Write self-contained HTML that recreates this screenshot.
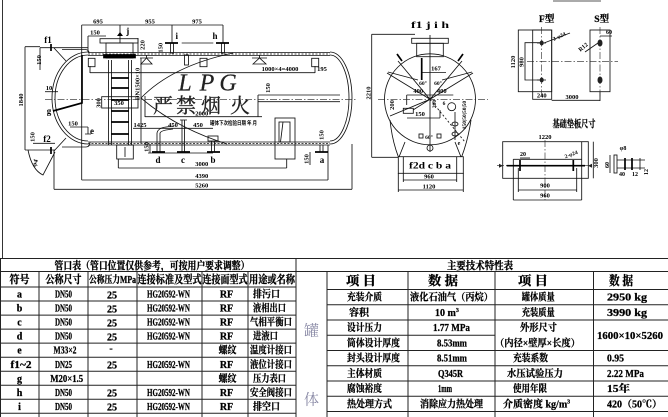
<!DOCTYPE html>
<html><head><meta charset="utf-8">
<style>
html,body{margin:0;padding:0;background:#fff;}
svg{display:block}
.l{stroke:#111;stroke-width:.85;fill:none}
.th{stroke:#000;stroke-width:1.7;fill:none}
.dd{stroke:#222;stroke-width:.6;fill:none;stroke-dasharray:7 2 1.5 2}
.tl{stroke:#222;stroke-width:1;fill:none}
.s{font-family:"Liberation Serif",serif;font-size:6.5px;font-weight:bold;fill:#000}
.m{font-family:"Liberation Serif",serif;font-size:9px;font-weight:bold;fill:#000}
.c{font-family:"Liberation Serif","Noto Serif CJK SC",serif;font-size:10.5px;font-weight:bold;fill:#000;stroke:#000;stroke-width:.3}
.e{font-family:"Liberation Serif","Noto Serif CJK SC",serif;font-size:10px;font-weight:bold;fill:#000;stroke:#000;stroke-width:.25}
.h{font-family:"Liberation Serif","Noto Serif CJK SC",serif;font-size:12.5px;font-weight:bold;fill:#000;stroke:#000;stroke-width:.3}
</style></head><body>
<svg width="668" height="417" viewBox="0 0 668 417" xmlns="http://www.w3.org/2000/svg">
<rect width="668" height="417" fill="#fff"/>
<path class="l" d="M2.5 0V258"/>
<rect x="553" y="0" width="48" height="2" fill="#aaa"/>

<!-- ===== SIDE VIEW ===== -->
<g class="l">
<path d="M81.7 25H223 M81.7 25V180 M120 25V43 M172 25V43 M223 25V43"/>
<rect x="100" y="38.7" width="38" height="4.3"/>
<rect x="106" y="43" width="27" height="15"/>
<path d="M88 36H106 M88 36V52 M138 38V52"/>
<path d="M181.7 43H213.3"/>
<rect x="170.5" y="43" width="3" height="10"/>
<rect x="221.5" y="43" width="3" height="10"/>
<path d="M88 52.5H330 M88 55.5H330 M88 142H330 M88 145H330"/>
<path d="M88 54H330 M88 143.5H330" stroke-dasharray="2 1.5"/>
<path d="M88 52 A36 46 0 0 0 88 144 M88 55 A33 43 0 0 0 88 141"/>
<path d="M330 52 A22 46 0 0 1 330 144 M330 55 A19 43 0 0 1 330 141"/>
<path d="M40 47.7H88 M54 48L66 61 M62 49.5H85 Q89 49.5 89 53"/>
<path d="M33 143.3H55 M54 151L66 138 M62 147H86 Q90 147 90 142"/>
<path d="M40 47.7V70"/>
<path d="M45 91.7H58"/>
<path d="M25 46.7V150 M25 46.7H40 M25 150H55"/>
<path d="M28 150Q32 170 43 175L55 152"/>
<path d="M54 150V189.3 M54 189.3H352 M352 144V189.3"/>
<path d="M81.7 180H328 M328 145V180"/>
<path d="M118.3 168H286.7 M118.3 159V168 M286.7 159V168"/>
<rect x="116.7" y="145" width="16.6" height="14"/>
<path d="M125 147V157"/>
<rect x="275" y="118" width="20" height="41"/>
<rect x="279" y="122" width="11" height="20"/>
<path d="M283 122L280.5 142"/>
<path d="M108.5 60V145 M111.5 60V145 M128.5 60V145 M131.5 60V145"/>
<path d="M141 58V143"/>
<rect x="88.3" y="58.3" width="6.7" height="8.4"/>
<rect x="200" y="58.3" width="7" height="8.4"/>
<rect x="311.7" y="58.3" width="7" height="8.4"/>
<path d="M140 58H153 M146.5 55V58 M141 64L146.5 58L152 64Z"/>
<path d="M252 58H267 M259.5 55V58 M253 64L259.5 58L266 64Z"/>
<rect x="184.5" y="55" width="4" height="10"/>
<path d="M90 72.7H315 M90 66V73 M315 66V73"/>
<path d="M145 116.7H262 M145 96V117 M258 95V117 M258 95H340 M258 101.7H340"/>
<path d="M233 53Q172 66 141 98Q176 128 227 144"/>
<rect x="101.7" y="96.7" width="36.3" height="11.3"/>
<path d="M70 127H88 M88 127V134 M85 134H91"/>
<path d="M133 128.3H213"/>
<path d="M157 133V152 M160 133V152 M157 133Q158 128 166 127L173 126 M160 133Q161 131 166 130L173 129"/>
<path d="M182 120V152 M184.5 120V152 M180 120H187"/>
<path d="M211.5 141V152 M214.5 141V152"/>
<rect x="208" y="136" width="10" height="5"/>
<path d="M320 145V152 M323 145V152"/>
<path d="M148 153H213 M150 144V153 M310 152V165"/>
</g>
<path class="dd" d="M45 99.3H356"/>
<g class="th">
<path d="M51 44V51 M51 147V154"/>
<path d="M53 111L82 103L82 55"/>
<path d="M165 43H178 M216 43H229"/>
<path d="M111 78H129 M111 88H129 M111 100H129 M111 111H129 M111 122H129 M111 134H129"/>
<path d="M152 152H165 M177 152H190 M207 152H220 M315 152H328"/>
<rect x="104" y="55" width="31" height="2.5" fill="#000"/>
</g>
<polygon points="117,36 120,32 123,36" fill="#000"/>
<g class="s" text-anchor="middle">
<text x="98" y="23.5">695</text><text x="150" y="23.5">955</text><text x="197" y="23.5">975</text>
<text x="95" y="34.5">150</text>
<text transform="rotate(-90 142.5 45)" x="142.5" y="47">220</text>
<text transform="rotate(-90 160 47.7)" x="160" y="50">150</text>
<text transform="rotate(-90 39 60)" x="39" y="62">150</text>
<text transform="rotate(-90 32.7 137)" x="32.7" y="139">150</text>
<text x="49" y="90">10</text>
<text transform="rotate(-90 21 100)" x="21" y="102">1840</text>
<text transform="rotate(-70 35 163)" x="35" y="165">φ4</text>
<text x="201.7" y="166">3000</text><text x="201.7" y="178">4390</text><text x="201.7" y="187.5">5260</text>
<text x="280" y="71">1000×4=4000</text><text x="322" y="71">195</text>
<text transform="rotate(-90 268 88)" x="268" y="90">150</text>
<text transform="rotate(-90 137.5 84)" x="137.5" y="86">DN1500×10</text>
<text x="119" y="105">350</text>
<text transform="rotate(-90 98.5 103)" x="98.5" y="105">300</text>
<text x="201.7" y="115.5">2000</text>
<text x="73" y="125.5">150</text>
<text x="140" y="127">1425</text><text x="173" y="127">450</text><text x="198" y="127">450</text>
<text transform="rotate(-90 146.7 147)" x="146.7" y="149">150</text>
<text transform="rotate(-90 306.7 159)" x="306.7" y="161">150</text>
<text transform="rotate(-90 321.7 135)" x="321.7" y="137">150</text>
</g>
<g class="m" text-anchor="middle">
<text x="127.7" y="34">j</text><text x="176.7" y="39">i</text><text x="215" y="39">h</text>
<text x="48" y="43">f1</text><text x="47" y="142">f2</text>
<text x="49" y="114">g</text><text x="92" y="134">e</text>
<text x="158" y="163">d</text><text x="183" y="163">c</text><text x="213" y="163">b</text><text x="322" y="163">a</text>
</g>
<g font-family="Liberation Serif,serif" font-style="italic" font-size="24" fill="#222" stroke="#222" stroke-width=".2" text-anchor="middle">
<text x="185" y="90.7">L</text><text x="207" y="90.7">P</text><text x="228" y="90.7">G</text>
</g>
<g font-family="Noto Serif CJK SC,serif" font-size="20" fill="#222" stroke="#222" stroke-width=".3" text-anchor="middle">
<text x="163" y="112.5">严</text><text x="186" y="112.5">禁</text><text x="211" y="112.5">烟</text><text x="240" y="112.5">火</text>
</g>
<text x="210" y="125" font-family="Noto Sans CJK SC,sans-serif" font-size="5.5" font-weight="bold" textLength="47" lengthAdjust="spacingAndGlyphs">罐体下次检验日期  年  月</text>

<!-- ===== END VIEW ===== -->
<g class="l">
<circle cx="430" cy="99.3" r="45.5"/>
<path d="M430 35V152"/>
<rect x="411.7" y="38.3" width="36.6" height="5"/>
<rect x="416.7" y="43.3" width="26.6" height="13.4"/>
<path d="M371.7 34.3V157.3 M371.7 34.3H415 M371.7 157.3H398"/>
<path d="M421.7 72.5H446"/>
<path d="M387 73L430 99.3 M473 73L430 99.3 M398 61L430 99.3 M462 61L430 99.3 M388 72L418 80 M472 72L442 80"/>
<path d="M406.7 95H453.3 M406.7 95V105"/>
<rect x="403.3" y="108.3" width="10" height="5"/>
<path d="M413 110L430 99.3 M430 99.3L390 116"/>
<path d="M407 118H440 M440 110V118"/>
<path d="M430 99.3L465 142" stroke-dasharray="2 2"/>
<circle cx="451.7" cy="106.7" r="4"/>
<ellipse cx="455" cy="124" rx="3" ry="2"/><ellipse cx="455" cy="134" rx="3" ry="2"/>
<path d="M455 112V140"/>
<rect x="419" y="134" width="4" height="4"/><rect x="437" y="134" width="4" height="4"/>
<circle cx="430" cy="148" r="3"/>
<path d="M390 120Q392 140 398.3 156.7 M471 120Q468 140 461.7 156.7 M405 142L399 157 M455 142L461 157"/>
<rect x="398.3" y="156.7" width="65" height="16.6"/>
<path d="M403.3 156.7V182 M456.7 156.7V182 M403.3 180H456.7"/>
<path d="M398.3 173V192 M463.3 173V192 M398.3 190H463.3"/>
</g>
<path class="dd" d="M378 99.3H488"/>
<g class="th">
<path d="M397 54L402 61 M463 54L458 61 M421.7 58V80"/>
</g>
<g class="s" text-anchor="middle">
<text transform="rotate(-90 368.5 93)" x="368.5" y="95">2210</text>
<text x="436" y="70.5">167</text>
<text x="423" y="85" font-size="5.5">60°</text><text x="438" y="85" font-size="5.5">60°</text>
<text x="418.3" y="93">400</text><text x="441.7" y="93">400</text>
<text transform="rotate(-90 392 105)" x="392" y="107">200</text>
<text transform="rotate(-90 434 104)" x="434" y="106" font-size="5.5">200</text>
<text x="444" y="105" font-size="5.5">6</text>
<text x="420" y="116">150</text>
<text transform="rotate(-90 464 115)" x="464" y="117" font-size="5.5">150|50|50|50</text>
<text x="459" y="145" font-size="6">e</text>
<text x="429" y="139" font-size="5.5">60°</text>
<text x="429" y="178.5">960</text><text x="429" y="188.5">1120</text>
</g>
<g class="m" text-anchor="middle">
<text x="430" y="28" textLength="38" lengthAdjust="spacingAndGlyphs">f1 j i h</text>
<text x="430" y="168.5" textLength="42" lengthAdjust="spacingAndGlyphs">f2d c b a</text>
</g>

<!-- ===== F / S PLATES ===== -->
<g class="l">
<rect x="518.3" y="30" width="33.4" height="61.7"/>
<rect x="532.7" y="30" width="19" height="69.3"/>
<path d="M541.7 42.7H525V80H541.7"/>
<path d="M537 43H546 M537 80H546"/>
<path d="M544 43L570 33"/>
<path d="M551.7 100.3H600 M600 91.7V101"/>
<rect x="590" y="30" width="20" height="61.7"/>
<path d="M585 52L598 43 M600 36H612"/>
<rect x="502.7" y="141.7" width="85.6" height="36.6"/>
<path d="M513.3 159.3H581.7 M513.3 159.3V200 M581.7 141.7V200 M513.3 200H581.7"/>
<path d="M518.3 190H576.7 M518.3 168V192 M576.7 168V192"/>
<path d="M593.3 141.7V178.3"/>
<path d="M520 158H530"/>
<rect x="614" y="155" width="3" height="18"/>
<path d="M617 160H645 M617 168H645 M610 155V173 M640 158V170"/>
</g>
<path class="dd" d="M541.7 27V97 M600 27V97 M527 61.7H618 M545 140V200 M497 165.7H590"/>
<path class="th" d="M506.7 165.7H585 M520 160V171 M573.3 160V171 M625 158V170 M632 158V170"/>
<g fill="#222">
<ellipse cx="541.7" cy="43" rx="2" ry="2.5"/><ellipse cx="541.7" cy="80" rx="2" ry="2.5"/>
<ellipse cx="600" cy="43" rx="2.5" ry="3.5"/><ellipse cx="600" cy="80" rx="2.5" ry="3.5"/>
<polygon points="499,163.7 503,165.7 499,167.7"/><polygon points="592,163.7 588,165.7 592,167.7"/>
</g>
<g class="s" text-anchor="middle">
<text transform="rotate(-25 560 38)" x="560" y="38" font-size="5.5">2-φ24</text>
<text transform="rotate(-90 513 62)" x="513" y="64">1120</text>
<text transform="rotate(-90 521.7 62)" x="521.7" y="64">980</text>
<text x="541.7" y="97.5">240</text>
<text x="572" y="99">3000</text>
<text transform="rotate(-40 583 47)" x="583" y="49" font-size="6">R12</text>
<text x="609" y="34" font-size="6">60</text>
<text x="545" y="139">1220</text>
<text x="523" y="156" font-size="6">20</text>
<text transform="rotate(-20 571.7 156)" x="571.7" y="156" font-size="5.5">2-φ24</text>
<text transform="rotate(-90 596 163)" x="596" y="165">300</text>
<text x="545" y="187.5">900</text><text x="545" y="197.5">960</text>
<text x="623" y="150" font-size="6">φ8</text>
<text transform="rotate(-90 607 165)" x="607" y="167" font-size="6">60</text>
<text x="622" y="176" font-size="6">40</text><text x="635" y="176" font-size="6">12</text>
<text transform="rotate(-90 646 172)" x="646" y="174" font-size="6">12</text>
</g>
<g class="e" text-anchor="middle">
<text x="546.7" y="22" font-size="9.5">F型</text>
<text x="601.7" y="22" font-size="9.5">S型</text>
<text x="574" y="127.5" textLength="43" lengthAdjust="spacingAndGlyphs">基础垫板尺寸</text>
</g>

<!-- ===== TABLES ===== -->
<path class="tl" d="M0 258.5H668 M0 271.5H668 M0 287H296 M0 301H296 M0 315.1H296 M0 329.1H296 M0 343.1H296 M0 357.2H296 M0 371.2H296 M0 385.2H296 M0 399.2H296 M0 413.3H296"/>
<path class="tl" d="M0.5 258V417 M39 271.5V417 M88 271.5V417 M137 271.5V417 M202 271.5V417 M248 271.5V417 M296 258V417"/>
<path class="tl" d="M327 271.5V417 M408 271.5V417 M495 271.5V417 M593.5 271.5V417"/>
<path class="tl" d="M327 289.5H668 M327 304.75H668 M327 320H668 M327 335.25H495 M327 350.5H668 M327 365.75H668 M327 381H668 M327 396.25H668 M327 411.5H668"/>

<g class="c" text-anchor="middle">
<text x="152" y="268.8" textLength="195" lengthAdjust="spacingAndGlyphs">管口表（管口位置仅供参考，可按用户要求调整）</text>
<text x="480" y="268.8" textLength="66" lengthAdjust="spacingAndGlyphs">主要技术特性表</text>
<text x="19.5" y="283" textLength="20" lengthAdjust="spacingAndGlyphs" font-size="11">符号</text>
<text x="63.5" y="283" textLength="36" lengthAdjust="spacingAndGlyphs" font-size="11">公称尺寸</text>
<text x="112.5" y="283" textLength="47" lengthAdjust="spacingAndGlyphs" font-size="10">公称压力MPa</text>
<text x="169.5" y="283" textLength="64" lengthAdjust="spacingAndGlyphs" font-size="11">连接标准及型式</text>
<text x="225" y="283" textLength="45" lengthAdjust="spacingAndGlyphs" font-size="11">连接面型式</text>
<text x="272" y="283" textLength="46" lengthAdjust="spacingAndGlyphs" font-size="11">用途或名称</text>
</g>

<g class="e" text-anchor="middle">
<text x="19.5" y="297.6">a</text><text x="19.5" y="311.6">b</text><text x="19.5" y="325.7">c</text><text x="19.5" y="339.7">d</text><text x="19.5" y="353.7">e</text>
<text x="21" y="367.8" textLength="21" lengthAdjust="spacingAndGlyphs">f1~2</text>
<text x="19.5" y="381.8">g</text><text x="19.5" y="395.8">h</text><text x="19.5" y="409.9">i</text>

<text x="63.5" y="297.6" textLength="17" lengthAdjust="spacingAndGlyphs">DN50</text>
<text x="63.5" y="311.6" textLength="17" lengthAdjust="spacingAndGlyphs">DN50</text>
<text x="63.5" y="325.7" textLength="17" lengthAdjust="spacingAndGlyphs">DN50</text>
<text x="63.5" y="339.7" textLength="17" lengthAdjust="spacingAndGlyphs">DN50</text>
<text x="65" y="353.7" textLength="23" lengthAdjust="spacingAndGlyphs">M33×2</text>
<text x="63.5" y="367.8" textLength="17" lengthAdjust="spacingAndGlyphs">DN25</text>
<text x="66.7" y="381.8" textLength="33" lengthAdjust="spacingAndGlyphs">M20×1.5</text>
<text x="63.5" y="395.8" textLength="17" lengthAdjust="spacingAndGlyphs">DN50</text>
<text x="63.5" y="409.9" textLength="17" lengthAdjust="spacingAndGlyphs">DN50</text>

<text x="112" y="298.3">25</text><text x="112" y="312.3">25</text><text x="112" y="326.4">25</text><text x="112" y="340.4">25</text>
<text x="111" y="351.5">-</text>
<text x="112" y="368.5">25</text><text x="112" y="396.5">25</text><text x="112" y="410.6">25</text>

<text x="168.5" y="297.6" textLength="43" lengthAdjust="spacingAndGlyphs">HG20592-WN</text>
<text x="168.5" y="311.6" textLength="43" lengthAdjust="spacingAndGlyphs">HG20592-WN</text>
<text x="168.5" y="325.7" textLength="43" lengthAdjust="spacingAndGlyphs">HG20592-WN</text>
<text x="168.5" y="339.7" textLength="43" lengthAdjust="spacingAndGlyphs">HG20592-WN</text>
<text x="168.5" y="367.8" textLength="43" lengthAdjust="spacingAndGlyphs">HG20592-WN</text>
<text x="168.5" y="395.8" textLength="43" lengthAdjust="spacingAndGlyphs">HG20592-WN</text>
<text x="168.5" y="409.9" textLength="43" lengthAdjust="spacingAndGlyphs">HG20592-WN</text>

<text x="226.5" y="297.6">RF</text><text x="226.5" y="311.6">RF</text><text x="226.5" y="325.7">RF</text><text x="226.5" y="339.7">RF</text>
<text x="227.5" y="353.7" textLength="18" lengthAdjust="spacingAndGlyphs">螺纹</text>
<text x="226.5" y="367.8">RF</text>
<text x="227.5" y="381.8" textLength="18" lengthAdjust="spacingAndGlyphs">螺纹</text>
<text x="226.5" y="395.8">RF</text><text x="226.5" y="409.9">RF</text>
</g>
<g class="e">
<text x="253" y="297.6" textLength="27" lengthAdjust="spacingAndGlyphs">排污口</text>
<text x="253" y="311.6" textLength="33" lengthAdjust="spacingAndGlyphs">液相出口</text>
<text x="250" y="325.7" textLength="42" lengthAdjust="spacingAndGlyphs">气相平衡口</text>
<text x="253" y="339.7" textLength="25" lengthAdjust="spacingAndGlyphs">进液口</text>
<text x="250" y="353.7" textLength="42" lengthAdjust="spacingAndGlyphs">温度计接口</text>
<text x="250" y="367.8" textLength="42" lengthAdjust="spacingAndGlyphs">液位计接口</text>
<text x="253" y="381.8" textLength="33" lengthAdjust="spacingAndGlyphs">压力表口</text>
<text x="250" y="395.8" textLength="42" lengthAdjust="spacingAndGlyphs">安全阀接口</text>
<text x="253" y="409.9" textLength="27" lengthAdjust="spacingAndGlyphs">排空口</text>
</g>

<g font-family="Noto Serif CJK SC,serif" font-size="15" fill="#8a8aa6" text-anchor="middle">
<text x="311.5" y="335.5">罐</text>
<text x="311.5" y="404.5">体</text>
</g>
<g class="h" text-anchor="middle">
<text x="361" y="285" textLength="30" lengthAdjust="spacingAndGlyphs">项  目</text>
<text x="443" y="285" textLength="30" lengthAdjust="spacingAndGlyphs">数  据</text>
<text x="533" y="285" textLength="30" lengthAdjust="spacingAndGlyphs">项  目</text>
<text x="621" y="285" textLength="24" lengthAdjust="spacingAndGlyphs">数  据</text>
</g>
<g class="e">
<text x="347" y="300.7" textLength="35" lengthAdjust="spacingAndGlyphs">充装介质</text>
<text x="349" y="316" textLength="20" lengthAdjust="spacingAndGlyphs">容积</text>
<text x="347" y="331.2" textLength="35" lengthAdjust="spacingAndGlyphs">设计压力</text>
<text x="347" y="346.5" textLength="53" lengthAdjust="spacingAndGlyphs">筒体设计厚度</text>
<text x="347" y="361.7" textLength="53" lengthAdjust="spacingAndGlyphs">封头设计厚度</text>
<text x="347" y="377" textLength="35" lengthAdjust="spacingAndGlyphs">主体材质</text>
<text x="347" y="392.2" textLength="35" lengthAdjust="spacingAndGlyphs">腐蚀裕度</text>
<text x="347" y="407.5" textLength="45" lengthAdjust="spacingAndGlyphs">热处理方式</text>

<text x="410" y="300.7" textLength="83" lengthAdjust="spacingAndGlyphs">液化石油气（丙烷）</text>
<text x="435" y="316">10 m<tspan font-size="6" dy="-4">3</tspan></text>
<text x="433" y="331.2" textLength="37" lengthAdjust="spacingAndGlyphs">1.77 MPa</text>
<text x="437" y="346.5" textLength="30" lengthAdjust="spacingAndGlyphs">8.53mm</text>
<text x="437" y="361.7" textLength="30" lengthAdjust="spacingAndGlyphs">8.51mm</text>
<text x="438" y="377" textLength="25" lengthAdjust="spacingAndGlyphs">Q345R</text>
<text x="438" y="392.2" textLength="14" lengthAdjust="spacingAndGlyphs">1mm</text>
<text x="420" y="407.5" textLength="63" lengthAdjust="spacingAndGlyphs">消除应力热处理</text>

<text x="521.7" y="300.7" textLength="33" lengthAdjust="spacingAndGlyphs">罐体质量</text>
<text x="521.7" y="316" textLength="33" lengthAdjust="spacingAndGlyphs">充装质量</text>
<text x="520" y="331" textLength="37" lengthAdjust="spacingAndGlyphs">外形尺寸</text>
<text x="495" y="346.3" textLength="85" lengthAdjust="spacingAndGlyphs">（内径×壁厚×长度）</text>
<text x="513" y="361.7" textLength="35" lengthAdjust="spacingAndGlyphs">充装系数</text>
<text x="507" y="377" textLength="56" lengthAdjust="spacingAndGlyphs">水压试验压力</text>
<text x="513" y="392.2" textLength="34" lengthAdjust="spacingAndGlyphs">使用年限</text>
<text x="503" y="407.5">介质密度 kg/m<tspan font-size="6" dy="-4">3</tspan></text>

<text x="607" y="300.7" textLength="40" lengthAdjust="spacingAndGlyphs">2950 kg</text>
<text x="607" y="316" textLength="40" lengthAdjust="spacingAndGlyphs">3990 kg</text>
<text x="597" y="339" textLength="66" lengthAdjust="spacingAndGlyphs">1600×10×5260</text>
<text x="607" y="361.7" textLength="17" lengthAdjust="spacingAndGlyphs">0.95</text>
<text x="607" y="377" textLength="37" lengthAdjust="spacingAndGlyphs">2.22 MPa</text>
<text x="607" y="392.2" textLength="23" lengthAdjust="spacingAndGlyphs">15年</text>
<text x="607" y="407.5" textLength="55" lengthAdjust="spacingAndGlyphs">420（50℃）</text>
</g>
</svg>
</body></html>
